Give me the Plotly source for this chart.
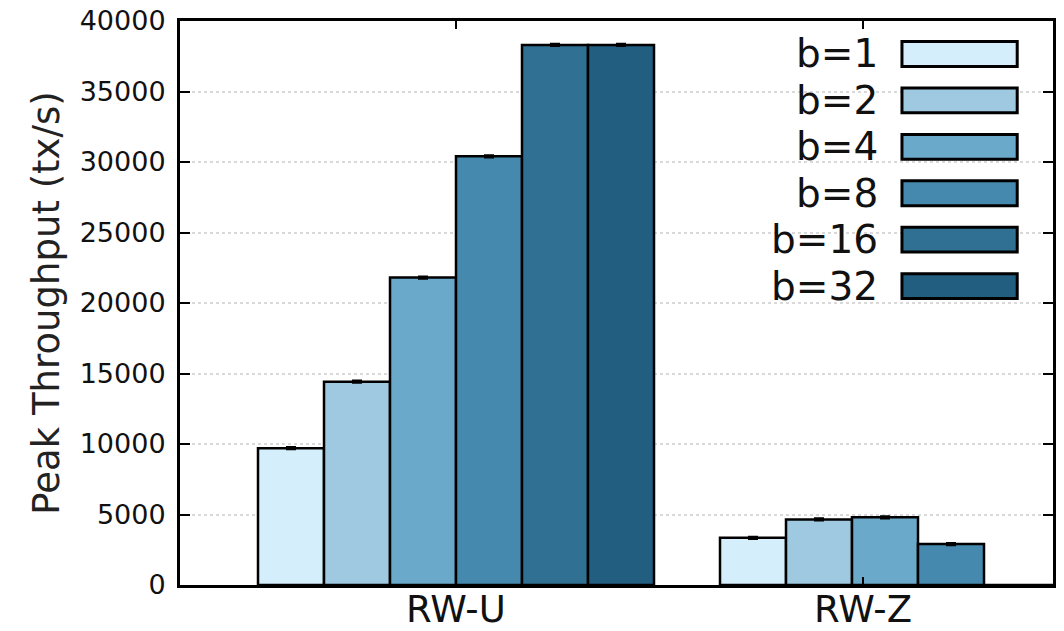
import plotly.graph_objects as go

# ---- data ----
groups = ["RW-U", "RW-Z"]
group_pos = [0, 1]            # cluster centres on a numeric axis
label_pos = [0, 0.88]         # where the cluster labels sit
series = ["b=1", "b=2", "b=4", "b=8", "b=16", "b=32"]
values = {
    "b=1": [9700, 3350],
    "b=2": [14420, 4650],
    "b=4": [21800, 4800],
    "b=8": [30400, 2900],
    "b=16": [38300, 0],
    "b=32": [38300, 0],
}
errors = {
    "b=1": [80, 80],
    "b=2": [80, 80],
    "b=4": [80, 80],
    "b=8": [80, 80],
    "b=16": [80, 0],
    "b=32": [80, 0],
}
colors = ["#d4eefb", "#9ec9e1", "#6aa9ca", "#458aae", "#2f7093", "#215e80"]
y_ticks = [0, 5000, 10000, 15000, 20000, 25000, 30000, 35000, 40000]

FONT = "DejaVu Sans"

fig = go.Figure()
for s, c in zip(series, colors):
    fig.add_trace(go.Bar(
        name=s, x=group_pos, y=values[s],
        marker=dict(color=c, line=dict(color="#000000", width=2.5)),
        error_y=dict(type="data", array=errors[s], visible=True,
                     color="#000000", thickness=2, width=5),
        showlegend=False,
    ))

# custom legend (text left of swatch, as in the reference)
lx0, lx1 = 0.827, 0.959
ltext = 0.802
ytop, step, half = 0.9415, 0.0823, 0.022
shapes = [dict(type="rect", xref="paper", yref="paper",
               x0=0.684, x1=0.985, y0=0.496, y1=0.988,
               fillcolor="white", line=dict(width=0), layer="between")]
annotations = []
for i, (s, c) in enumerate(zip(series, colors)):
    yc = ytop - i * step
    shapes.append(dict(type="rect", xref="paper", yref="paper",
                       x0=lx0, x1=lx1, y0=yc - half, y1=yc + half,
                       fillcolor=c, line=dict(color="#000000", width=3),
                       layer="above"))
    annotations.append(dict(xref="paper", yref="paper", x=ltext, y=yc,
                            text=s, showarrow=False, xanchor="right",
                            yanchor="middle",
                            font=dict(family=FONT, size=39, color="#111111")))

# cluster labels below the axis
for g, p in zip(groups, label_pos):
    annotations.append(dict(xref="x", yref="paper", x=p, y=0, text=g,
                            showarrow=False, xanchor="center", yanchor="top",
                            yshift=-1,
                            font=dict(family=FONT, size=37, color="#111111")))

fig.update_layout(
    width=1056, height=623,
    margin=dict(l=172, r=11, t=13, b=46),
    paper_bgcolor="white", plot_bgcolor="white",
    barmode="group", bargap=1/7, bargroupgap=0,
    shapes=shapes, annotations=annotations,
    font=dict(family=FONT, color="#111111"),
)
fig.update_xaxes(
    automargin=False,
    range=[-0.5974, 1.2922],
    tickmode="array", tickvals=label_pos, ticktext=["", ""],
    ticks="inside", ticklen=8, tickwidth=2, tickcolor="#000000",
    showline=True, linecolor="#000000", linewidth=3, mirror="allticks",
    showgrid=False, zeroline=False,
)
fig.update_yaxes(
    automargin=False,
    range=[0, 40000],
    tickmode="array", tickvals=y_ticks, ticktext=[str(v) for v in y_ticks],
    tickfont=dict(family=FONT, size=27, color="#111111"),
    ticklabeloverflow="allow",
    ticks="inside", ticklen=10, tickwidth=2, tickcolor="#000000",
    ticklabelstandoff=6,
    showline=True, linecolor="#000000", linewidth=3, mirror="allticks",
    showgrid=True, gridcolor="#d9d9d9", gridwidth=2, griddash="dot",
    zeroline=False,
    title=dict(text="Peak Throughput (tx/s)",
               font=dict(family=FONT, size=37, color="#222222"),
               standoff=9),
)

fig.write_html("out.html")
